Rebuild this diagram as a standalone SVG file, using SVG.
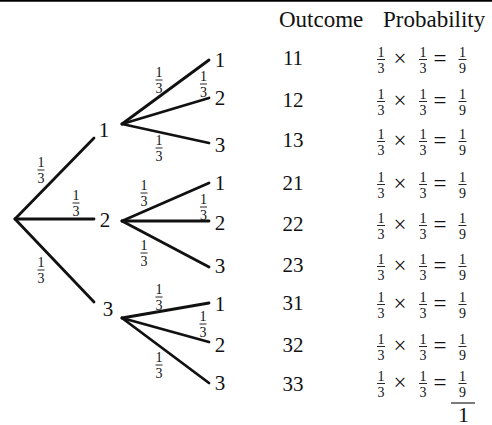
<svg xmlns="http://www.w3.org/2000/svg" width="492" height="425" viewBox="0 0 492 425" font-family="'Liberation Serif', 'Times New Roman', serif">
<style>
  text { font-family: 'Liberation Serif', 'Times New Roman', serif; fill: #111; }
  .lbl { font-size: 21px; text-anchor: middle; }
  .hdr { font-size: 23px; }
  .fr { font-size: 14px; text-anchor: middle; }
  .op { font-size: 23px; text-anchor: middle; }
  .edge { stroke: #111; stroke-width: 2.8; stroke-linecap: round; fill: none; }
  .bar { stroke: #111; stroke-width: 0.9; }
</style>
<rect x="0" y="0" width="492" height="425" fill="#fff"/>
<line x1="0" y1="0.8" x2="492" y2="0.8" stroke="#000" stroke-width="1.8"/>

<g id="connectors">
  <line class="edge" x1="15" y1="219" x2="94" y2="138"/>
  <line class="edge" x1="15" y1="219" x2="94" y2="219"/>
  <line class="edge" x1="15" y1="219" x2="94" y2="302"/>
  <line class="edge" x1="122" y1="124" x2="209" y2="60"/>
  <line class="edge" x1="122" y1="124" x2="209" y2="98"/>
  <line class="edge" x1="122" y1="124" x2="209" y2="143"/>
  <line class="edge" x1="122" y1="221" x2="209" y2="183"/>
  <line class="edge" x1="122" y1="221" x2="209" y2="221"/>
  <line class="edge" x1="122" y1="221" x2="209" y2="267"/>
  <line class="edge" x1="122" y1="318" x2="209" y2="303"/>
  <line class="edge" x1="122" y1="318" x2="209" y2="342"/>
  <line class="edge" x1="122" y1="318" x2="209" y2="383"/>
</g>

<g id="edge-labels">
  <g><text class="fr" x="41" y="167">1</text><line class="bar" x1="37.5" y1="170" x2="44.5" y2="170"/><text class="fr" x="41" y="183">3</text></g>
  <g><text class="fr" x="76" y="200">1</text><line class="bar" x1="72.5" y1="203" x2="79.5" y2="203"/><text class="fr" x="76" y="216">3</text></g>
  <g><text class="fr" x="41" y="267">1</text><line class="bar" x1="37.5" y1="270" x2="44.5" y2="270"/><text class="fr" x="41" y="283">3</text></g>
  <g><text class="fr" x="159" y="77">1</text><line class="bar" x1="155.5" y1="80" x2="162.5" y2="80"/><text class="fr" x="159" y="93">3</text></g>
  <g><text class="fr" x="203.5" y="81">1</text><line class="bar" x1="200" y1="84" x2="207" y2="84"/><text class="fr" x="203.5" y="97">3</text></g>
  <g><text class="fr" x="159" y="145">1</text><line class="bar" x1="155.5" y1="148" x2="162.5" y2="148"/><text class="fr" x="159" y="161">3</text></g>
  <g><text class="fr" x="144" y="190">1</text><line class="bar" x1="140.5" y1="193" x2="147.5" y2="193"/><text class="fr" x="144" y="206">3</text></g>
  <g><text class="fr" x="203.5" y="204">1</text><line class="bar" x1="200" y1="207" x2="207" y2="207"/><text class="fr" x="203.5" y="220">3</text></g>
  <g><text class="fr" x="144" y="250">1</text><line class="bar" x1="140.5" y1="253" x2="147.5" y2="253"/><text class="fr" x="144" y="266">3</text></g>
  <g><text class="fr" x="159" y="294">1</text><line class="bar" x1="155.5" y1="297" x2="162.5" y2="297"/><text class="fr" x="159" y="310">3</text></g>
  <g><text class="fr" x="203" y="321">1</text><line class="bar" x1="199.5" y1="324" x2="206.5" y2="324"/><text class="fr" x="203" y="337">3</text></g>
  <g><text class="fr" x="159" y="362">1</text><line class="bar" x1="155.5" y1="365" x2="162.5" y2="365"/><text class="fr" x="159" y="378">3</text></g>
</g>

<g id="node-root"><circle cx="15" cy="219" r="0.1" fill="none"/></g>
<g id="node-1"><text class="lbl" x="104" y="137">1</text></g>
<g id="node-2"><text class="lbl" x="105" y="227">2</text></g>
<g id="node-3"><text class="lbl" x="108" y="316">3</text></g>
<g id="node-11"><text class="lbl" x="220" y="67">1</text></g>
<g id="node-12"><text class="lbl" x="220" y="105">2</text></g>
<g id="node-13"><text class="lbl" x="220" y="152">3</text></g>
<g id="node-21"><text class="lbl" x="220" y="190">1</text></g>
<g id="node-22"><text class="lbl" x="220" y="230">2</text></g>
<g id="node-23"><text class="lbl" x="220" y="273">3</text></g>
<g id="node-31"><text class="lbl" x="220" y="311">1</text></g>
<g id="node-32"><text class="lbl" x="220" y="352">2</text></g>
<g id="node-33"><text class="lbl" x="220" y="390">3</text></g>

<g id="table">
  <text class="hdr" x="279" y="27">Outcome</text>
  <text class="hdr" x="383" y="27">Probability</text>

  <g id="row-11">
    <text class="lbl" x="293" y="65">11</text>
    <text class="fr" x="381" y="57">1</text><line class="bar" x1="377" y1="59.5" x2="385" y2="59.5"/><text class="fr" x="381" y="72.5">3</text>
    <text class="op" x="400" y="66">×</text>
    <text class="fr" x="423" y="57">1</text><line class="bar" x1="419" y1="59.5" x2="427" y2="59.5"/><text class="fr" x="423" y="72.5">3</text>
    <text class="op" x="440" y="66">=</text>
    <text class="fr" x="462.5" y="57">1</text><line class="bar" x1="458.5" y1="59.5" x2="466.5" y2="59.5"/><text class="fr" x="462.5" y="72.5">9</text>
  </g>
  <g id="row-12">
    <text class="lbl" x="293" y="107">12</text>
    <text class="fr" x="381" y="99">1</text><line class="bar" x1="377" y1="101.5" x2="385" y2="101.5"/><text class="fr" x="381" y="114.5">3</text>
    <text class="op" x="400" y="108">×</text>
    <text class="fr" x="423" y="99">1</text><line class="bar" x1="419" y1="101.5" x2="427" y2="101.5"/><text class="fr" x="423" y="114.5">3</text>
    <text class="op" x="440" y="108">=</text>
    <text class="fr" x="462.5" y="99">1</text><line class="bar" x1="458.5" y1="101.5" x2="466.5" y2="101.5"/><text class="fr" x="462.5" y="114.5">9</text>
  </g>
  <g id="row-13">
    <text class="lbl" x="293" y="147">13</text>
    <text class="fr" x="381" y="139">1</text><line class="bar" x1="377" y1="141.5" x2="385" y2="141.5"/><text class="fr" x="381" y="154.5">3</text>
    <text class="op" x="400" y="148">×</text>
    <text class="fr" x="423" y="139">1</text><line class="bar" x1="419" y1="141.5" x2="427" y2="141.5"/><text class="fr" x="423" y="154.5">3</text>
    <text class="op" x="440" y="148">=</text>
    <text class="fr" x="462.5" y="139">1</text><line class="bar" x1="458.5" y1="141.5" x2="466.5" y2="141.5"/><text class="fr" x="462.5" y="154.5">9</text>
  </g>
  <g id="row-21">
    <text class="lbl" x="293" y="190">21</text>
    <text class="fr" x="381" y="182">1</text><line class="bar" x1="377" y1="184.5" x2="385" y2="184.5"/><text class="fr" x="381" y="197.5">3</text>
    <text class="op" x="400" y="191">×</text>
    <text class="fr" x="423" y="182">1</text><line class="bar" x1="419" y1="184.5" x2="427" y2="184.5"/><text class="fr" x="423" y="197.5">3</text>
    <text class="op" x="440" y="191">=</text>
    <text class="fr" x="462.5" y="182">1</text><line class="bar" x1="458.5" y1="184.5" x2="466.5" y2="184.5"/><text class="fr" x="462.5" y="197.5">9</text>
  </g>
  <g id="row-22">
    <text class="lbl" x="293" y="231">22</text>
    <text class="fr" x="381" y="223">1</text><line class="bar" x1="377" y1="225.5" x2="385" y2="225.5"/><text class="fr" x="381" y="238.5">3</text>
    <text class="op" x="400" y="232">×</text>
    <text class="fr" x="423" y="223">1</text><line class="bar" x1="419" y1="225.5" x2="427" y2="225.5"/><text class="fr" x="423" y="238.5">3</text>
    <text class="op" x="440" y="232">=</text>
    <text class="fr" x="462.5" y="223">1</text><line class="bar" x1="458.5" y1="225.5" x2="466.5" y2="225.5"/><text class="fr" x="462.5" y="238.5">9</text>
  </g>
  <g id="row-23">
    <text class="lbl" x="293" y="272">23</text>
    <text class="fr" x="381" y="264">1</text><line class="bar" x1="377" y1="266.5" x2="385" y2="266.5"/><text class="fr" x="381" y="279.5">3</text>
    <text class="op" x="400" y="273">×</text>
    <text class="fr" x="423" y="264">1</text><line class="bar" x1="419" y1="266.5" x2="427" y2="266.5"/><text class="fr" x="423" y="279.5">3</text>
    <text class="op" x="440" y="273">=</text>
    <text class="fr" x="462.5" y="264">1</text><line class="bar" x1="458.5" y1="266.5" x2="466.5" y2="266.5"/><text class="fr" x="462.5" y="279.5">9</text>
  </g>
  <g id="row-31">
    <text class="lbl" x="293" y="310">31</text>
    <text class="fr" x="381" y="302">1</text><line class="bar" x1="377" y1="304.5" x2="385" y2="304.5"/><text class="fr" x="381" y="317.5">3</text>
    <text class="op" x="400" y="311">×</text>
    <text class="fr" x="423" y="302">1</text><line class="bar" x1="419" y1="304.5" x2="427" y2="304.5"/><text class="fr" x="423" y="317.5">3</text>
    <text class="op" x="440" y="311">=</text>
    <text class="fr" x="462.5" y="302">1</text><line class="bar" x1="458.5" y1="304.5" x2="466.5" y2="304.5"/><text class="fr" x="462.5" y="317.5">9</text>
  </g>
  <g id="row-32">
    <text class="lbl" x="293" y="352">32</text>
    <text class="fr" x="381" y="344">1</text><line class="bar" x1="377" y1="346.5" x2="385" y2="346.5"/><text class="fr" x="381" y="359.5">3</text>
    <text class="op" x="400" y="353">×</text>
    <text class="fr" x="423" y="344">1</text><line class="bar" x1="419" y1="346.5" x2="427" y2="346.5"/><text class="fr" x="423" y="359.5">3</text>
    <text class="op" x="440" y="353">=</text>
    <text class="fr" x="462.5" y="344">1</text><line class="bar" x1="458.5" y1="346.5" x2="466.5" y2="346.5"/><text class="fr" x="462.5" y="359.5">9</text>
  </g>
  <g id="row-33">
    <text class="lbl" x="293" y="391">33</text>
    <text class="fr" x="381" y="381">1</text><line class="bar" x1="377" y1="383.5" x2="385" y2="383.5"/><text class="fr" x="381" y="396.5">3</text>
    <text class="op" x="400" y="390">×</text>
    <text class="fr" x="423" y="381">1</text><line class="bar" x1="419" y1="383.5" x2="427" y2="383.5"/><text class="fr" x="423" y="396.5">3</text>
    <text class="op" x="440" y="390">=</text>
    <text class="fr" x="462.5" y="381">1</text><line class="bar" x1="458.5" y1="383.5" x2="466.5" y2="383.5"/><text class="fr" x="462.5" y="396.5">9</text>
  </g>
  <g id="total">
    <line x1="451" y1="403" x2="475" y2="403" stroke="#111" stroke-width="1.1"/>
    <text class="lbl" x="463.5" y="421.5" style="font-size:22px">1</text>
  </g>
</g>
</svg>
